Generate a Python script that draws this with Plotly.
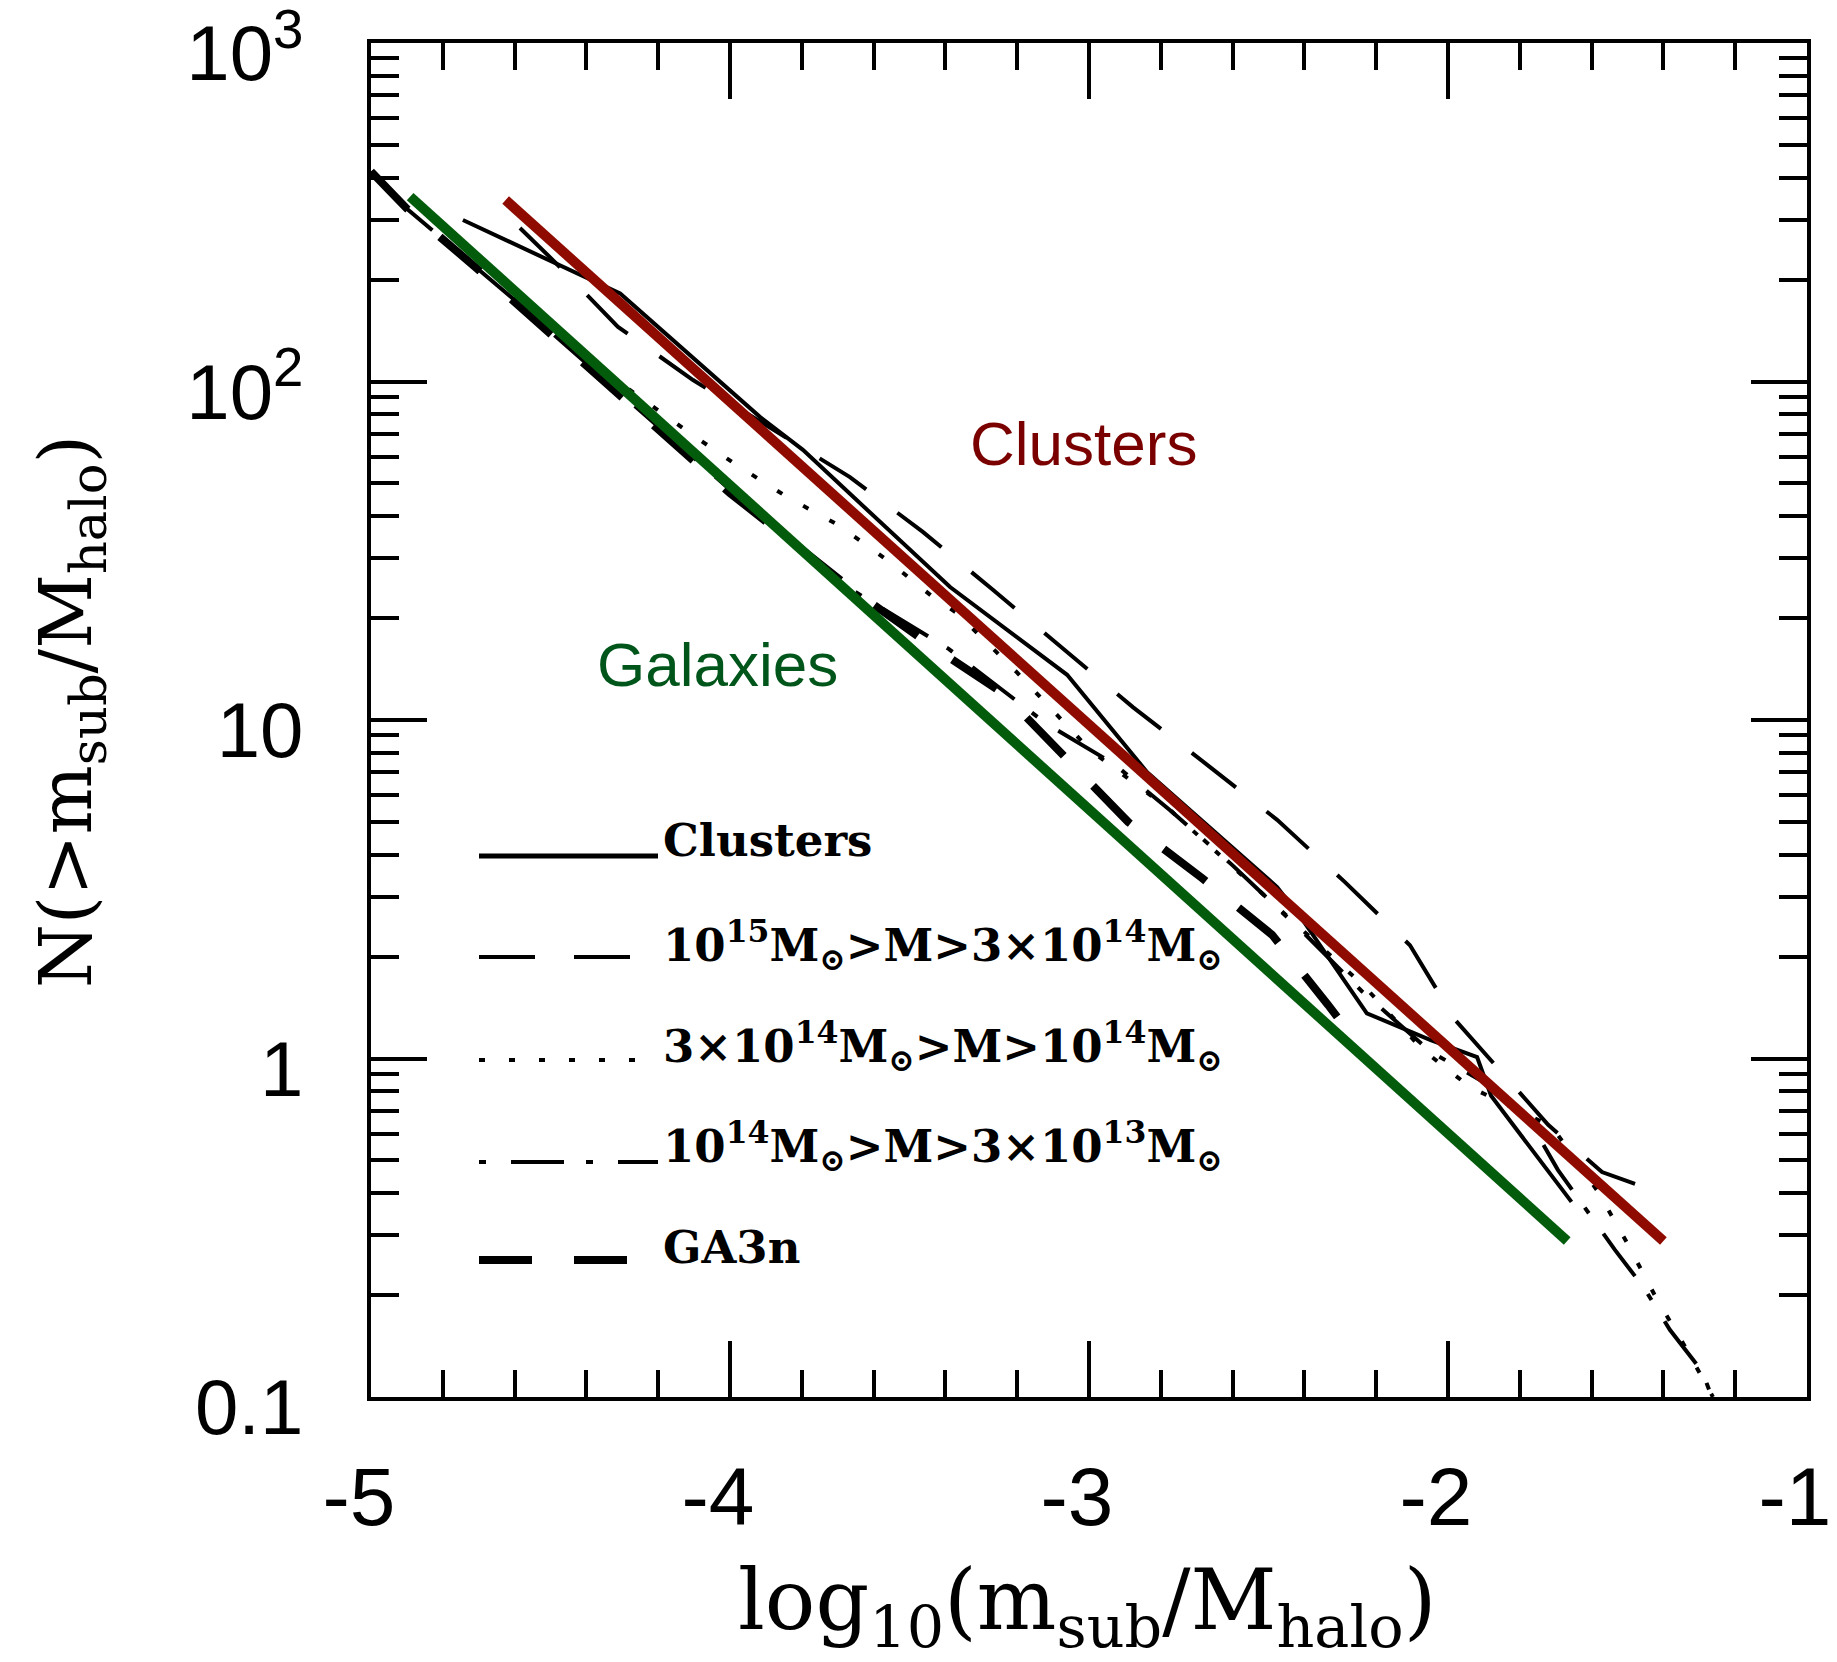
import plotly.graph_objects as go

# x is log10(m_sub / M_halo); y values are N(>m_sub/M_halo)
clusters_x = [-4.744, -4.493, -4.306, -3.916, -3.797, -3.387, -3.061, -2.838,
              -2.476, -2.404, -2.226, -2.050, -1.919, -1.880, -1.656]
clusters_n = [300, 225, 182, 78.5, 62.8, 24.7, 13.6, 7.01,
              3.21, 2.56, 1.36, 1.135, 1.01, 0.776, 0.377]

massive_x = [-4.585, -4.487, -4.312, -4.103, -3.666, -3.462, -3.267, -3.075, -2.877,
             -2.677, -2.476, -2.287, -2.106, -1.980, -1.721, -1.571, -1.479]
massive_n = [284, 225, 145, 101, 52.2, 35.9, 24.2, 16.3, 10.9,
             7.46, 5.07, 3.32, 2.16, 1.30, 0.637, 0.462, 0.426]

middle_x = [-4.35, -4.117, -3.981, -3.841, -3.699, -3.563, -3.435, -3.368, -3.20, -2.997,
            -2.774, -2.50, -2.237, -2.070, -1.939, -1.81, -1.710, -1.582, -1.501, -1.421,
            -1.340, -1.262]
middle_n = [107, 71.0, 56.6, 45.6, 37.7, 29.7, 23.1, 20.7, 13.8, 8.15,
            5.42, 2.95, 1.65, 1.06, 0.824, 0.708, 0.628, 0.404, 0.285, 0.197,
            0.141, 0.1]

low_x = [-5.0, -4.90, -4.60, -4.30, -4.00, -3.70, -3.39, -3.12, -2.93, -2.77, -2.60,
         -2.40, -2.24, -2.05, -1.90, -1.77, -1.694, -1.535, -1.454, -1.382, -1.292, -1.265]
low_n = [417, 324, 174, 91.2, 47.9, 25.7, 16.2, 9.77, 7.41, 5.37, 3.72,
         2.34, 1.58, 1.05, 0.851, 0.646, 0.469, 0.272, 0.210, 0.158, 0.119, 0.1]

ga3n_x = [-5.0, -4.90, -4.71, -4.524, -4.334, -4.0, -3.657, -3.451, -3.240, -3.067,
          -2.891, -2.685, -2.490, -2.334, -2.253]
ga3n_n = [417, 324, 218, 145, 95.7, 46.8, 24.2, 16.9, 12.0, 7.78,
          5.00, 3.41, 2.32, 1.44, 1.11]

# power-law guides
cluster_fit_x = [-4.625, -1.400]
cluster_fit_n = [343.6, 0.289]
galaxy_fit_x = [-4.891, -1.668]
galaxy_fit_n = [351.6, 0.289]

x_tick_vals = [-5, -4, -3, -2, -1]
x_tick_text = ["-5", "-4", "-3", "-2", "-1"]
y_tick_vals = [0.1, 1, 10, 100, 1000]
y_tick_text = ["0.1", "1", "10", "10<sup>2</sup>", "10<sup>3</sup>"]

legend_labels = [
    "Clusters",
    "10<sup>15</sup>M<sub>⊙</sub>&gt;M&gt;3×10<sup>14</sup>M<sub>⊙</sub>",
    "3×10<sup>14</sup>M<sub>⊙</sub>&gt;M&gt;10<sup>14</sup>M<sub>⊙</sub>",
    "10<sup>14</sup>M<sub>⊙</sub>&gt;M&gt;3×10<sup>13</sup>M<sub>⊙</sub>",
    "GA3n",
]

RED = "#8f0b00"
GREEN = "#035c0c"
SERIF = "DejaVu Serif"
SANS = "Liberation Sans"

# line styles: (dash, width)
styles = [
    ("solid", 4),
    ("56px,39px", 4),
    ("6px,24px", 4),
    ("7px,25px,53px,22px", 4),
    ("53px,42px", 8),
]

fig = go.Figure()

for (xs, ns), (dash, w) in zip(
    [(clusters_x, clusters_n), (massive_x, massive_n), (middle_x, middle_n),
     (low_x, low_n), (ga3n_x, ga3n_n)], styles):
    fig.add_trace(go.Scatter(x=xs, y=ns, mode="lines",
                             line=dict(color="black", width=w, dash=dash),
                             showlegend=False, hoverinfo="skip"))

fig.add_trace(go.Scatter(x=galaxy_fit_x, y=galaxy_fit_n, mode="lines",
                         line=dict(color=GREEN, width=10), showlegend=False))
fig.add_trace(go.Scatter(x=cluster_fit_x, y=cluster_fit_n, mode="lines",
                         line=dict(color=RED, width=10), showlegend=False))

# plot-area geometry in pixels, used to place the hand-drawn key
X0, X1, Y0, Y1 = 371, 1807, 43, 1397


def px(xp):
    return (xp - X0) / (X1 - X0)


def py(yp):
    return (Y1 - yp) / (Y1 - Y0)


key_rows = [856, 957, 1060, 1162, 1260]
key_ends = [658, 630, 640, 658, 630]
key_text_mid = [840, 944, 1045, 1145, 1247]

for (dash, w), yrow, xend in zip(styles, key_rows, key_ends):
    fig.add_shape(type="line", xref="paper", yref="paper",
                  x0=px(479), x1=px(xend), y0=py(yrow), y1=py(yrow),
                  line=dict(color="black", width=w + (1 if dash == "solid" else 0), dash=dash))

for label, ymid in zip(legend_labels, key_text_mid):
    fig.add_annotation(text=label, xref="paper", yref="paper",
                       x=px(661), y=py(ymid), xanchor="left", yanchor="middle",
                       showarrow=False,
                       font=dict(family=SERIF, size=45, color="black", weight="bold"))

fig.add_annotation(text="Clusters", x=-3.014, y=1.818, xref="x", yref="y",
                   showarrow=False, xanchor="center", yanchor="middle",
                   font=dict(family=SANS, size=62, color="#7a0000"))
fig.add_annotation(text="Galaxies", x=-4.036, y=1.165, xref="x", yref="y",
                   showarrow=False, xanchor="center", yanchor="middle",
                   font=dict(family=SANS, size=62, color="#00561a"))

# axis titles
fig.add_annotation(text="log<sub>10</sub>(m<sub>sub</sub>/M<sub>halo</sub>)",
                   xref="paper", yref="paper", x=px(1087), y=py(1606),
                   xanchor="center", yanchor="middle", showarrow=False,
                   font=dict(family=SERIF, size=84, color="black"))
fig.add_annotation(text="N(&gt;m<sub>sub</sub>/M<sub>halo</sub>)",
                   xref="paper", yref="paper", x=px(70), y=py(712),
                   xanchor="center", yanchor="middle", showarrow=False, textangle=-90,
                   font=dict(family=SERIF, size=73, color="black"))

x_minor = [round(-5 + 0.2 * i, 2) for i in range(21) if i % 5 != 0]
y_minor = [m * 10 ** e for e in range(-1, 3) for m in range(2, 10)]

axis_common = dict(showgrid=False, zeroline=False, showline=True, linecolor="black",
                   linewidth=4, mirror="ticks", ticks="inside", tickwidth=4,
                   tickcolor="black", ticklen=56, tickmode="array",
                   ticklabeloverflow="allow", automargin=False)

fig.update_layout(
    width=1837, height=1662, autosize=False,
    margin=dict(l=X0, r=1837 - X1, t=Y0, b=1662 - Y1, pad=0, autoexpand=False),
    paper_bgcolor="white", plot_bgcolor="white", showlegend=False,
    xaxis=dict(range=[-5, -1], tickvals=x_tick_vals, ticktext=x_tick_text,
               tickfont=dict(family=SANS, size=82, color="black"),
               ticklabelstandoff=26, ticklabelshift=-12,
               minor=dict(ticks="inside", ticklen=27, tickwidth=4, tickcolor="black",
                          tickvals=x_minor, showgrid=False),
               **axis_common),
    yaxis=dict(type="log", range=[-1, 3], tickvals=y_tick_vals, ticktext=y_tick_text,
               tickfont=dict(family=SANS, size=78, color="black"),
               ticklabelstandoff=48, ticklabelshift=10,
               minor=dict(ticks="inside", ticklen=28, tickwidth=4, tickcolor="black",
                          tickvals=y_minor, showgrid=False),
               **axis_common),
)

fig.write_html("out.html")
